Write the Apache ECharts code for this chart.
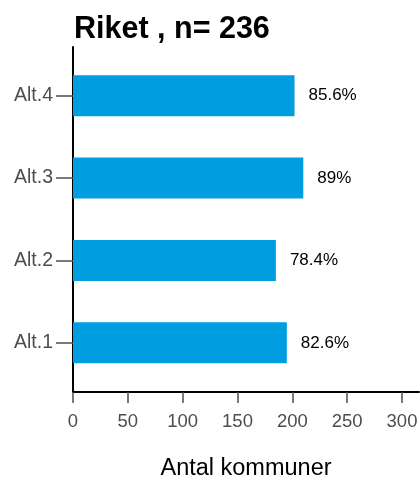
<!DOCTYPE html>
<html>
<head>
<meta charset="utf-8">
<script src="https://cdn.jsdelivr.net/npm/echarts@6/dist/echarts.min.js"></script>
<style>html,body{margin:0;padding:0;background:#fff}#c{width:420px;height:480px}</style>
</head>
<body>
<div id="c"></div>
<script>
const titleText = 'Riket , n= 236';
const categories = ['Alt.1', 'Alt.2', 'Alt.3', 'Alt.4'];
const counts = [195, 185, 210, 202];
const pctLabels = ['82.6%', '78.4%', '89%', '85.6%'];
const xTicks = [0, 50, 100, 150, 200, 250, 300];
const xName = 'Antal kommuner';
const xMax = 315.5;

const FONT = 'Liberation Sans, Arial, sans-serif';
const chart = echarts.init(document.getElementById('c'), null, {renderer: 'canvas'});
chart.setOption({
  backgroundColor: '#ffffff',
  animation: false,
  title: {
    text: titleText, left: 69, top: 9,
    textStyle: {fontFamily: FONT, fontSize: 30.5, fontWeight: 'bold', color: '#000'}
  },
  grid: [
    {left: 73, right: 1, top: 47, bottom: 88, containLabel: false, outerBoundsMode: 'none'},
    {left: 73, right: 1, top: 54.5, bottom: 96, containLabel: false, outerBoundsMode: 'none'}
  ],
  xAxis: [
    {
      gridIndex: 0, type: 'value', min: 0, max: xMax,
      splitLine: {show: false},
      axisLine: {show: true, lineStyle: {color: '#000', width: 2}},
      axisTick: {show: true, customValues: xTicks, length: 11, lineStyle: {color: '#4d4d4d', width: 1.5}},
      axisLabel: {customValues: xTicks, color: '#4d4d4d', fontFamily: FONT, fontSize: 18.5, margin: 20},
      name: xName, nameLocation: 'middle', nameGap: 65,
      nameTextStyle: {fontFamily: FONT, fontSize: 23.5, color: '#000'}
    },
    {gridIndex: 1, type: 'value', min: 0, max: xMax, show: false}
  ],
  yAxis: [
    {
      gridIndex: 0, type: 'value', min: 0, max: 1,
      splitLine: {show: false},
      axisLine: {show: true, lineStyle: {color: '#000', width: 2}},
      axisTick: {show: false}, axisLabel: {show: false}
    },
    {
      gridIndex: 1, type: 'category', data: categories,
      axisLine: {show: false},
      axisTick: {show: true, alignWithLabel: true, length: 17, lineStyle: {color: '#4d4d4d', width: 1.5}},
      axisLabel: {color: '#4d4d4d', fontFamily: FONT, fontSize: 19.5, margin: 20}
    }
  ],
  series: [{
    type: 'bar', xAxisIndex: 1, yAxisIndex: 1,
    data: counts,
    barWidth: 41,
    itemStyle: {color: '#009ee0'},
    label: {
      show: true, position: 'right', distance: 14,
      formatter: p => pctLabels[p.dataIndex],
      fontFamily: FONT, fontSize: 17, color: '#000'
    }
  }]
});
</script>
</body>
</html>
